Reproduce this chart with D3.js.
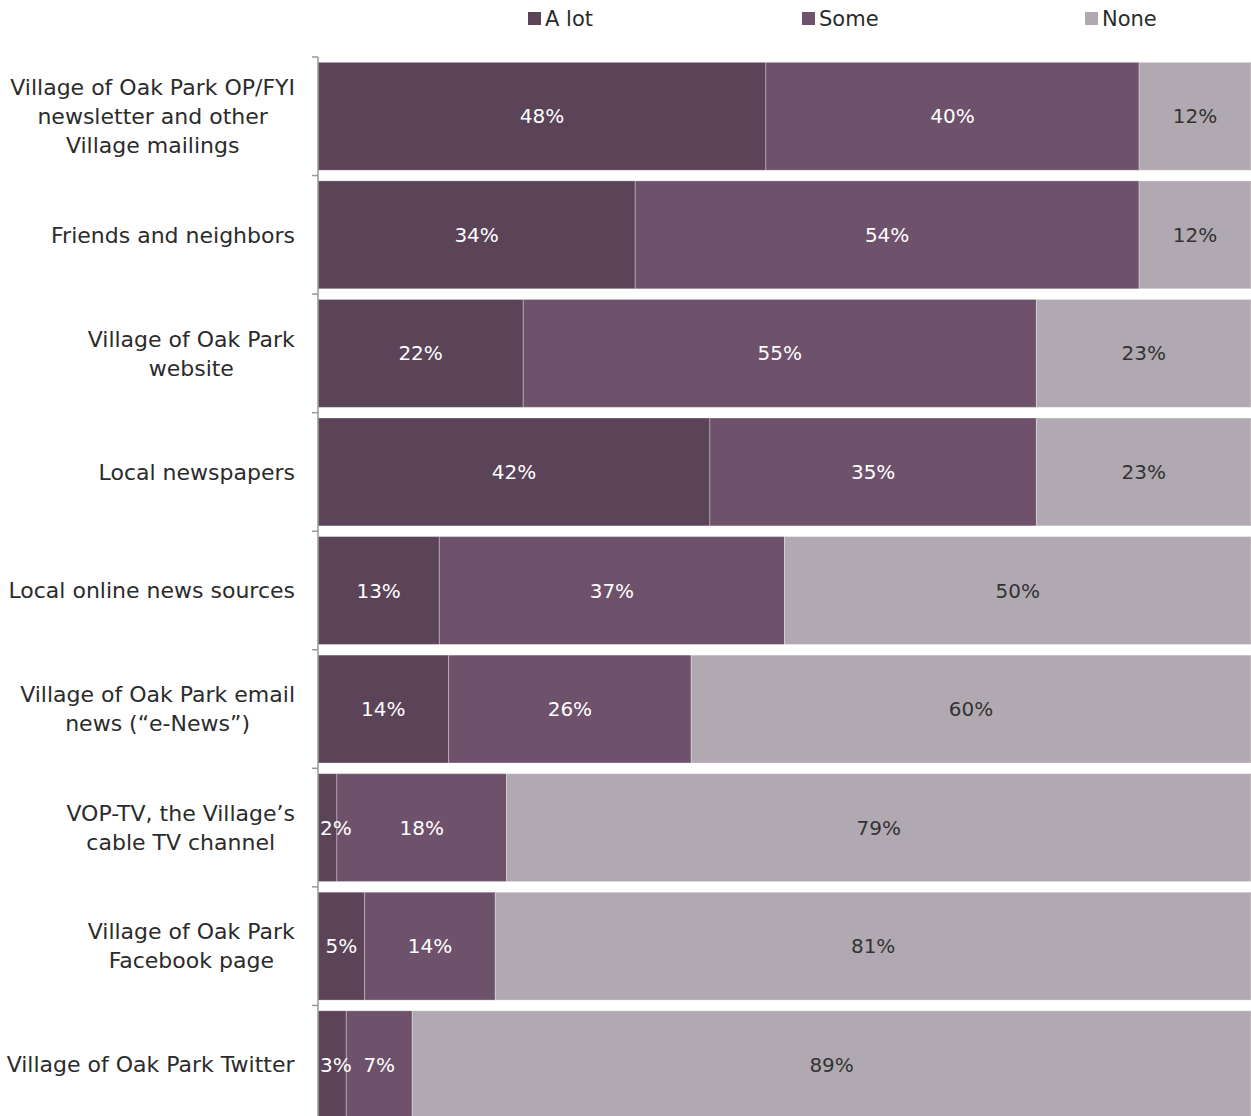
<!DOCTYPE html>
<html>
<head>
<meta charset="utf-8">
<script src="https://cdn.jsdelivr.net/npm/d3@7"></script>
<style>
  body { margin: 0; background: #fff; }
  svg { display: block; font-family: "DejaVu Sans", sans-serif; }
</style>
</head>
<body>
<div id="chart"></div>
<script>
const categories = [
    "Village of Oak Park OP/FYI\nnewsletter and other\nVillage mailings",
    "Friends and neighbors",
    "Village of Oak Park\nwebsite",
    "Local newspapers",
    "Local online news sources",
    "Village of Oak Park email\nnews (\u201ce-News\u201d)",
    "VOP-TV, the Village\u2019s\ncable TV channel",
    "Village of Oak Park\nFacebook page",
    "Village of Oak Park Twitter"
];
const seriesNames = ["A lot", "Some", "None"];
const aLot = [48, 34, 22, 42, 13, 14, 2, 5, 3];
const some = [40, 54, 55, 35, 37, 26, 18, 14, 7];
const none = [12, 12, 23, 23, 50, 60, 79, 81, 89];

const colorMap = {
    "A lot": "#5b4358",
    "Some": "#6e526b",
    "None": "#b1a9b1"
};
const labelColor = {
    "A lot": "#ffffff",
    "Some": "#ffffff",
    "None": "#333333"
};

const width = 1251, height = 1116;

const rows = categories.map((c, i) => ({ cat: c, "A lot": aLot[i], "Some": some[i], "None": none[i] }));

// 100% stacked, normalised per row
const stack = d3.stack().keys(seriesNames).offset(d3.stackOffsetExpand);
const layers = stack(rows);

const x = d3.scaleLinear().domain([0, 1]).range([318, 1251]);
const y = d3.scaleBand()
    .domain(categories)
    .range([57, 1124])
    .paddingInner(0.09)
    .paddingOuter(0.045);

const svg = d3.select("#chart")
    .append("svg")
    .attr("width", width)
    .attr("height", height);

// Bars
const layer = svg.selectAll(".layer")
    .data(layers)
    .enter()
    .append("g")
    .attr("class", "layer")
    .attr("fill", d => colorMap[d.key]);

layer.selectAll("rect")
    .data(d => d)
    .enter()
    .append("rect")
    .attr("x", d => x(d[0]))
    .attr("y", d => y(d.data.cat))
    .attr("width", d => x(d[1]) - x(d[0]))
    .attr("height", y.bandwidth())
    .attr("stroke", "#ffffff")
    .attr("stroke-opacity", 0.3)
    .attr("stroke-width", 1);

// Value labels (kept inside the plot area like the original)
layers.forEach(l => {
    svg.append("g")
        .selectAll("text")
        .data(l)
        .enter()
        .append("text")
        .attr("y", d => y(d.data.cat) + y.bandwidth() / 2)
        .attr("dy", "0.35em")
        .attr("text-anchor", "middle")
        .attr("fill", labelColor[l.key])
        .style("font-size", "20px")
        .text(d => d.data[l.key] + "%")
        .attr("x", function(d) {
            const w = this.getComputedTextLength();
            return Math.max((x(d[0]) + x(d[1])) / 2, 320 + w / 2);
        });
});

// Left axis
const axisG = svg.append("g").attr("transform", "translate(318,0)");
axisG.append("line")
    .attr("x1", 0).attr("x2", 0)
    .attr("y1", 57).attr("y2", height)
    .attr("stroke", "#999").attr("stroke-width", 1.5);
const step = y.step();
axisG.selectAll(".tick")
    .data(d3.range(categories.length + 1))
    .enter()
    .append("line")
    .attr("x1", -6).attr("x2", 0)
    .attr("y1", i => 57 + i * step)
    .attr("y2", i => 57 + i * step)
    .attr("stroke", "#999").attr("stroke-width", 1.5);

// Category labels, centered block, right edge at 295
const lineH = 29;
categories.forEach(c => {
    const lines = c.split("\n");
    const t = svg.append("text")
        .attr("text-anchor", "middle")
        .attr("fill", "#2b2b2b")
        .style("font-size", "22px");
    const cy = y(c) + y.bandwidth() / 2;
    const top = cy - (lines.length - 1) * lineH / 2;
    lines.forEach((ln, i) => {
        t.append("tspan")
            .attr("x", 0)
            .attr("y", top + i * lineH)
            .attr("dy", "0.35em")
            .text(ln);
    });
    const w = t.node().getBBox().width;
    t.selectAll("tspan").attr("x", 295 - w / 2);
});

// Legend
const legendX = [528, 802, 1085];
const legend = svg.selectAll(".legend")
    .data(seriesNames)
    .enter()
    .append("g")
    .attr("class", "legend")
    .attr("transform", (d, i) => "translate(" + legendX[i] + ",0)");
legend.append("rect")
    .attr("x", 0).attr("y", 12)
    .attr("width", 13).attr("height", 13)
    .attr("fill", d => colorMap[d]);
legend.append("text")
    .attr("x", 17).attr("y", 19)
    .attr("dy", "0.35em")
    .attr("fill", "#2b2b2b")
    .style("font-size", "21px")
    .text(d => d);
</script>
</body>
</html>
